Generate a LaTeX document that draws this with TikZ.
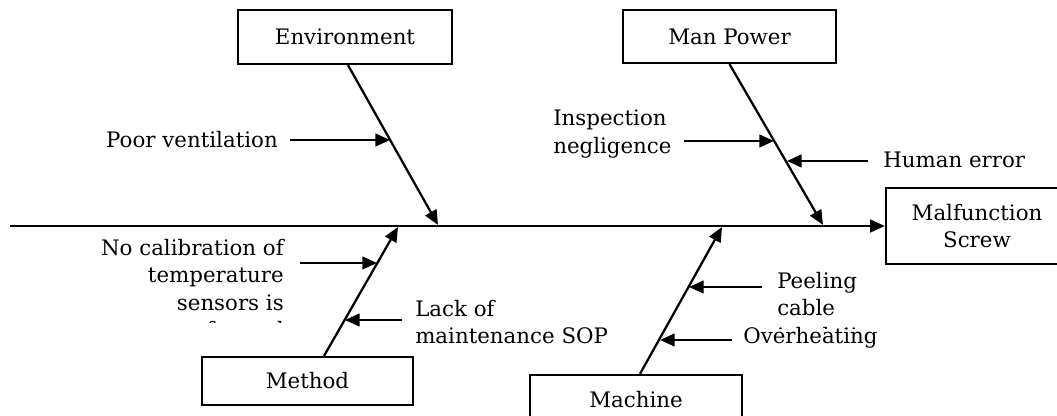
\documentclass[tikz,border=0pt]{standalone}
\usepackage{fontspec}
\setmainfont{DejaVu Serif}
\usetikzlibrary{arrows.meta}
\begin{document}
\begin{tikzpicture}[x=0.75pt,y=-0.75pt,
  box/.style={draw, line width=1.7pt, inner sep=0pt, fill=white, font=\fontsize{16}{20.5}\selectfont},
  lbl/.style={inner sep=0pt, font=\fontsize{16}{20.5}\selectfont},
  bone/.style={line width=1.7pt, -{Triangle[length=11pt,width=9.5pt]}},
]
\clip (0,0) rectangle (1057,416);
\fill[white] (0,0) rectangle (1057,416);
% boxes
\node[box, minimum width=160.5pt, minimum height=40.5pt] (env) at (345,37) {Environment};
\node[box, minimum width=159.75pt, minimum height=39.75pt] (man) at (729.5,36.5) {Man Power};
\node[box, minimum width=136.5pt, minimum height=57pt, align=center] (mal) at (977,226) {Malfunction\\Screw};
\node[box, minimum width=158.25pt, minimum height=36pt] (met) at (307.5,381) {Method};
\node[box, minimum width=159pt, minimum height=37.5pt] (mac) at (636,400) {Machine};
% spine and bones
\coordinate (sL) at (10,226);
\coordinate (eT) at (438,225);
\coordinate (mT) at (823,225);
\coordinate (meT) at (398,227);
\coordinate (maT) at (722,227);
\draw[bone] (sL) -- (mal.west);
\draw[bone] ([xshift=2.25pt]env.south) -- (eT);
\draw[bone] (man.south) -- (mT);
\draw[bone] ([xshift=12.4pt]met.north) -- (meT);
\draw[bone] ([xshift=3pt]mac.north) -- (maT);
% labels
\node[lbl, anchor=east] (pv) at (278,140) {Poor ventilation};
\node[lbl, anchor=west, align=left] (insp) at (553,134) {Inspection\\negligence};
\node[lbl, anchor=west] (hum) at (883,160) {Human error};
\begin{scope}
  \clip (0,230) rectangle (296,323);
  \node[lbl, anchor=east, align=right] (cal) at (284,290.5) {No calibration of\\temperature\\sensors is\\performed};
\end{scope}
\node[lbl, anchor=west, align=left] (lack) at (415,322) {Lack of\\maintenance SOP};
\begin{scope}
  \clip (770,262) rectangle (900,329);
  \node[lbl, anchor=west, align=left] (peel) at (777,308) {Peeling\\cable\\insulation};
\end{scope}
\node[lbl, anchor=west] (over) at (743,338) {Overheating};
% cause arrows
\coordinate (pvT) at (390,140);
\coordinate (inT) at (774,141);
\coordinate (huT) at (787,161);
\coordinate (caT) at (377,263);
\coordinate (laT) at (345,320);
\coordinate (peT) at (689,287);
\coordinate (ovT) at (660,340);
\draw[bone] ([xshift=9pt]pv.east |- pvT) -- (pvT);
\draw[bone] ([xshift=9pt]insp.east |- inT) -- (inT);
\draw[bone] ([xshift=-11.25pt]hum.west |- huT) -- (huT);
\draw[bone] ([xshift=12pt]cal.east |- caT) -- (caT);
\draw[bone] ([xshift=-9.75pt]lack.west |- laT) -- (laT);
\draw[bone] ([xshift=-11.25pt]peel.west |- peT) -- (peT);
\draw[bone] ([xshift=-8.25pt]over.west |- ovT) -- (ovT);
\end{tikzpicture}
\end{document}
